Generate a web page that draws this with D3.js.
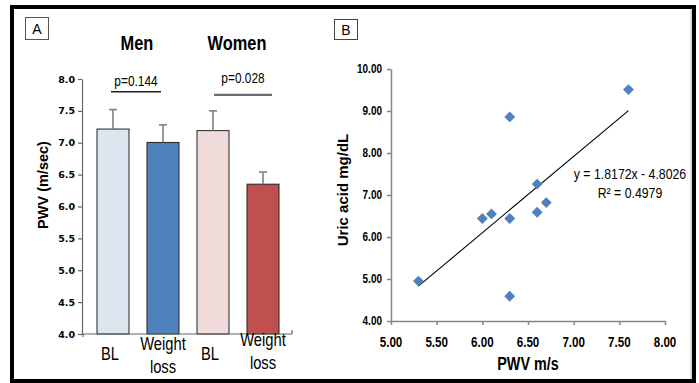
<!DOCTYPE html>
<html><head><meta charset="utf-8">
<script src="https://cdn.jsdelivr.net/npm/d3@7"></script>
<style>body{margin:0;background:#fff}svg{display:block}</style>
</head><body>
<svg id="c" width="699" height="383"></svg>
<script>
// Panel A data
const barCategories = ["BL|Men", "Weight loss|Men", "BL|Women", "Weight loss|Women"];
const barLabels = [["BL"], ["Weight", "loss"], ["BL"], ["Weight", "loss"]];
const barValues = [7.215, 7.005, 7.19, 6.35];
const barErrorTops = [7.52, 7.28, 7.50, 6.54];
const barColors = ["#dce6f1", "#4f81bd", "#f2dcdb", "#c0504d"];
const groupTitles = ["Men", "Women"];
const pLabels = ["p=0.144", "p=0.028"];
const yTicksA = [4.0, 4.5, 5.0, 5.5, 6.0, 6.5, 7.0, 7.5, 8.0];

// Panel B data
const pwv = [5.30, 6.00, 6.10, 6.30, 6.30, 6.30, 6.60, 6.60, 6.70, 7.60];
const uricAcid = [4.95, 6.44, 6.55, 8.86, 6.44, 4.59, 7.26, 6.59, 6.82, 9.51];
const trendSlope = 1.8172, trendIntercept = -4.8026;
const xTicksB = [5.0, 5.5, 6.0, 6.5, 7.0, 7.5, 8.0];
const yTicksB = [4, 5, 6, 7, 8, 9, 10];

const svg = d3.select("#c");
const SANS = "'Liberation Sans', Arial, sans-serif";
const NS = 0.82; // horizontal condensation to imitate a narrow face

function narrow(parent, x, y, txt, opts = {}) {
  const t = parent.append("text")
    .attr("transform", `translate(${x},${y}) scale(${opts.sx || NS},1)`)
    .attr("text-anchor", opts.anchor || "middle")
    .attr("font-family", SANS)
    .attr("font-size", opts.size || 14)
    .attr("font-weight", opts.weight || "normal")
    .attr("fill", "#000")
    .text(txt);
  return t;
}

// outer frame
svg.append("rect").attr("x", 12).attr("y", 7).attr("width", 682).attr("height", 374)
  .attr("fill", "none").attr("stroke", "#000").attr("stroke-width", 4);
svg.append("line").attr("x1", 691).attr("x2", 691).attr("y1", 9).attr("y2", 379)
  .attr("stroke", "#bbb").attr("stroke-width", 1);

// ---------- Panel A ----------
const xA = d3.scaleBand().domain(barCategories).range([88, 288]).paddingInner(0.36).paddingOuter(0.18);
const yA = d3.scaleLinear().domain([4, 8]).range([334, 79]);
const axisGrey = "#666";

// label box A
svg.append("rect").attr("x", 25.5).attr("y", 17.5).attr("width", 23).attr("height", 22)
  .attr("fill", "#fff").attr("stroke", "#555").attr("stroke-width", 1);
svg.append("text").attr("x", 37).attr("y", 34).attr("text-anchor", "middle")
  .attr("font-family", SANS).attr("font-size", 14).text("A");

// group titles
groupTitles.forEach((t, i) => {
  const c = (xA(barCategories[2 * i]) + xA(barCategories[2 * i + 1]) + xA.bandwidth()) / 2;
  narrow(svg, c - 1, 50, t, {size: 20, weight: "bold"});
});

// bars
svg.append("g").selectAll("rect").data(barValues).join("rect")
  .attr("x", (d, i) => xA(barCategories[i]))
  .attr("y", d => yA(d))
  .attr("width", xA.bandwidth())
  .attr("height", d => yA(4) - yA(d))
  .attr("fill", (d, i) => barColors[i])
  .attr("stroke", "#222").attr("stroke-width", 1);

// error bars
const eg = svg.append("g").attr("stroke", "#808080").attr("stroke-width", 1.6);
barValues.forEach((v, i) => {
  const cx = xA(barCategories[i]) + xA.bandwidth() / 2;
  eg.append("line").attr("x1", cx).attr("x2", cx).attr("y1", yA(v)).attr("y2", yA(barErrorTops[i]));
  eg.append("line").attr("x1", cx - 4).attr("x2", cx + 4).attr("y1", yA(barErrorTops[i])).attr("y2", yA(barErrorTops[i]));
});

// y axis A
const gyA = svg.append("g").attr("transform", "translate(82,0)")
  .call(d3.axisLeft(yA).tickValues(yTicksA).tickFormat(d3.format(".1f")).tickSize(4).tickSizeOuter(0));
gyA.select(".domain").attr("stroke", axisGrey).attr("stroke-width", 1.2);
gyA.selectAll(".tick line").attr("stroke", axisGrey).attr("stroke-width", 1.2);
gyA.selectAll(".tick text").attr("font-family", "'DejaVu Sans', sans-serif").attr("font-weight", "bold")
  .attr("font-size", 9.5).attr("fill", "#000").attr("x", -7);

// x axis A
svg.append("line").attr("x1", 82).attr("x2", 292).attr("y1", yA(4)).attr("y2", yA(4))
  .attr("stroke", axisGrey).attr("stroke-width", 1.2);
svg.append("line").attr("x1", 292).attr("x2", 292).attr("y1", yA(4)).attr("y2", yA(4) - 4)
  .attr("stroke", axisGrey).attr("stroke-width", 1.2);
svg.append("line").attr("x1", 83).attr("x2", 83).attr("y1", yA(4)).attr("y2", yA(4) + 3)
  .attr("stroke", axisGrey).attr("stroke-width", 1.2);

// category labels
barLabels.forEach((lines, i) => {
  const cx = xA(barCategories[i]) + xA.bandwidth() / 2;
  if (lines.length === 1) {
    narrow(svg, cx - 3, 360, lines[0], {size: 18});
  } else {
    const base = i === 1 ? 350 : 346;
    lines.forEach((l, k) => narrow(svg, cx, base + k * 23, l, {size: 18}));
  }
});

// y label A
svg.append("text").attr("transform", "translate(48,185) rotate(-90)").attr("text-anchor", "middle")
  .attr("font-family", SANS).attr("font-weight", "bold").attr("font-size", 14.5).text("PWV (m/sec)");

// significance
const sig = [
  {a: 0, b: 1, ly: 7.80, ty: 7.89, c: "#222", w: 1.6, x1o: -2, x2o: -2},
  {a: 2, b: 3, ly: 7.75, ty: 7.94, c: "#6e6e6e", w: 2.2, x1o: 1, x2o: 9}
];
sig.forEach((s, i) => {
  const x1 = xA(barCategories[s.a]) + xA.bandwidth() / 2 + s.x1o;
  const x2 = xA(barCategories[s.b]) + xA.bandwidth() / 2 + s.x2o;
  svg.append("line").attr("x1", x1).attr("x2", x2).attr("y1", yA(s.ly)).attr("y2", yA(s.ly))
    .attr("stroke", s.c).attr("stroke-width", s.w);
  narrow(svg, (x1 + x2) / 2, yA(s.ty), pLabels[i], {size: 14.5});
});

// ---------- Panel B ----------
const xB = d3.scaleLinear().domain([5, 8]).range([391, 665]);
const yB = d3.scaleLinear().domain([4, 10]).range([321, 69]);
const axisGreyB = "#868686";

svg.append("rect").attr("x", 334.5).attr("y", 19.5).attr("width", 23).attr("height", 20)
  .attr("fill", "#fff").attr("stroke", "#444").attr("stroke-width", 1);
svg.append("text").attr("x", 346).attr("y", 35).attr("text-anchor", "middle")
  .attr("font-family", SANS).attr("font-size", 14).text("B");

const gyB = svg.append("g").attr("transform", "translate(391,0)")
  .call(d3.axisLeft(yB).tickValues(yTicksB).tickFormat("").tickSize(4).tickSizeOuter(0));
gyB.select(".domain").attr("stroke", axisGreyB).attr("stroke-width", 1.5);
gyB.selectAll(".tick line").attr("stroke", axisGreyB).attr("stroke-width", 1.5);
yTicksB.forEach(v => narrow(svg, 382, yB(v) + 4, d3.format(".2f")(v), {size: 12.5, weight: "bold", anchor: "end", sx: 0.8}));

const gxB = svg.append("g").attr("transform", "translate(0,321)")
  .call(d3.axisBottom(xB).tickValues(xTicksB).tickFormat("").tickSize(4).tickSizeOuter(0));
gxB.select(".domain").attr("stroke", axisGreyB).attr("stroke-width", 1.5);
gxB.selectAll(".tick line").attr("stroke", axisGreyB).attr("stroke-width", 1.5);
xTicksB.forEach(v => narrow(svg, xB(v), 347, d3.format(".2f")(v), {size: 14.5, weight: "bold", sx: 0.8}));

// trend line
const xMin = d3.min(pwv), xMax = d3.max(pwv);
svg.append("line")
  .attr("x1", xB(xMin)).attr("y1", yB(trendSlope * xMin + trendIntercept))
  .attr("x2", xB(xMax)).attr("y2", yB(trendSlope * xMax + trendIntercept))
  .attr("stroke", "#000").attr("stroke-width", 1.1);

// points
svg.append("g").selectAll("path").data(pwv).join("path")
  .attr("d", d3.symbol(d3.symbolDiamond2, 75))
  .attr("transform", (d, i) => `translate(${xB(d)},${yB(uricAcid[i])})`)
  .attr("fill", "#4f81bd");

// equation
narrow(svg, 630, 179, "y = 1.8172x - 4.8026", {size: 15});
narrow(svg, 630, 198, "R² = 0.4979", {size: 15});

// axis titles B
svg.append("text").attr("transform", "translate(348,190) rotate(-90)").attr("text-anchor", "middle")
  .attr("font-family", SANS).attr("font-weight", "bold").attr("font-size", 15).text("Uric acid mg/dL");
narrow(svg, 528, 370, "PWV m/s", {size: 17.5, weight: "bold"});
</script>
</body></html>
